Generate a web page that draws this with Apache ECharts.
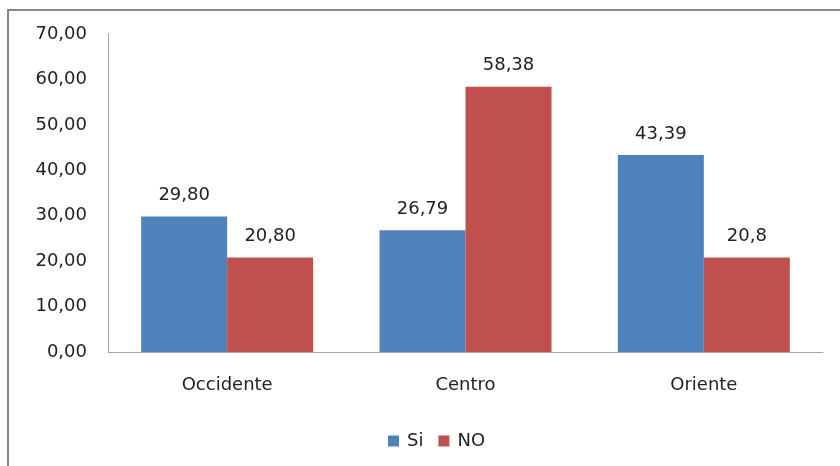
<!DOCTYPE html>
<html>
<head>
<meta charset="utf-8">
<script src="https://cdn.jsdelivr.net/npm/echarts@6/dist/echarts.min.js"></script>
<style>
body{margin:0;background:#fff;}
#frame{position:absolute;left:7px;top:9px;width:840px;height:470px;border-top:2px solid #868686;border-left:2px solid #868686;}
#main{position:absolute;left:0;top:0;width:840px;height:466px;}
</style>
</head>
<body>
<div id="frame"></div>
<div id="main"></div>
<script>
var categories = ['Occidente', 'Centro', 'Oriente'];
var siValues = [29.80, 26.79, 43.39];
var noValues = [20.80, 58.38, 20.8];
var siLabels = ['29,80', '26,79', '43,39'];
var noLabels = ['20,80', '58,38', '20,8'];

var font = 'DejaVu Sans';
var chart = echarts.init(document.getElementById('main'));
chart.setOption({
  animation: false,
  grid: {left: 108, right: 17, top: 34, bottom: 114},
  legend: {
    bottom: 11,
    left: 383,
    itemWidth: 11,
    itemHeight: 11,
    itemGap: 15,
    icon: 'rect',
    textStyle: {fontFamily: font, fontSize: 18, color: '#222', padding: [0, 0, 0, 3]},
    data: ['Si', 'NO']
  },
  xAxis: {
    type: 'category',
    data: categories,
    axisLine: {lineStyle: {color: '#a6a6a6', width: 1}},
    axisTick: {show: false},
    axisLabel: {fontFamily: font, fontSize: 18, color: '#222', margin: 24}
  },
  yAxis: {
    type: 'value',
    min: 0,
    max: 70,
    interval: 10,
    splitLine: {show: false},
    axisLine: {show: true, lineStyle: {color: '#a6a6a6', width: 1}},
    axisTick: {show: false},
    axisLabel: {
      fontFamily: font, fontSize: 18, color: '#222', margin: 21,
      formatter: function (v) { return v.toFixed(2).replace('.', ','); }
    }
  },
  series: [
    {
      name: 'Si',
      type: 'bar',
      data: siValues,
      barWidth: 86,
      barGap: '0%',
      itemStyle: {color: '#4f81bd'},
      label: {
        show: true, position: 'top', distance: 12,
        fontFamily: font, fontSize: 18, color: '#222',
        formatter: function (p) { return siLabels[p.dataIndex]; }
      }
    },
    {
      name: 'NO',
      type: 'bar',
      data: noValues,
      barWidth: 86,
      itemStyle: {color: '#c0504d'},
      label: {
        show: true, position: 'top', distance: 12,
        fontFamily: font, fontSize: 18, color: '#222',
        formatter: function (p) { return noLabels[p.dataIndex]; }
      }
    }
  ]
});
</script>
</body>
</html>
